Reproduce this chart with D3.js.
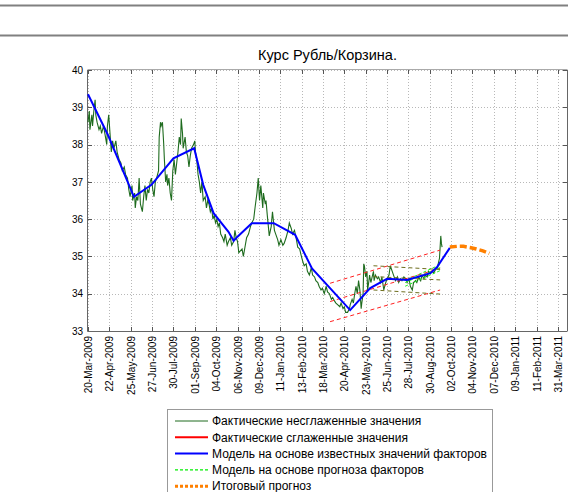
<!DOCTYPE html>
<html><head><meta charset="utf-8">
<script src="https://cdn.jsdelivr.net/npm/d3@7"></script>
<style>
body{margin:0;background:#fff;}
svg{display:block;font-family:"Liberation Sans",Arial,sans-serif;}
</style></head><body>
<svg id="c" width="568" height="492"></svg>
<script>
const startDate = "2009-03-20";
const endDate = "2011-03-30";
const tickDates = ["2009-03-20","2009-04-22","2009-05-25","2009-06-27","2009-07-30","2009-09-01","2009-10-04","2009-11-06","2009-12-09","2010-01-11","2010-02-13","2010-03-18","2010-04-20","2010-05-23","2010-06-25","2010-07-28","2010-08-30","2010-10-02","2010-11-04","2010-12-07","2011-01-09","2011-02-11","2011-03-16"];
const tickLabels = ["20-Mar-2009","22-Apr-2009","25-May-2009","27-Jun-2009","30-Jul-2009","01-Sep-2009","04-Oct-2009","06-Nov-2009","09-Dec-2009","11-Jan-2010","13-Feb-2010","18-Mar-2010","20-Apr-2010","23-May-2010","25-Jun-2010","28-Jul-2010","30-Aug-2010","02-Oct-2010","04-Nov-2010","07-Dec-2010","09-Jan-2011","11-Feb-2011","31-Mar-2011"];
const yTicks = [33,34,35,36,37,38,39,40];

// actual (unsmoothed) values: day offset from startDate, value
const actualDay = [0,2,3,6,7,9,11,12,14,17,19,21,24,26,29,30,32,34,36,38,40,43,45,48,51,53,56,58,61,63,65,68,69,72,73,75,77,79,81,84,86,88,90,92,94,96,98,100,102,104,106,109,110,112,113,115,117,118,120,122,123,125,127,129,131,133,135,137,139,141,143,144,146,147,150,152,154,156,158,160,163,165,166,168,170,172,174,176,178,181,183,185,187,189,191,193,195,197,199,201,203,205,208,210,212,215,217,220,222,225,227,229,231,233,238,240,243,245,248,251,253,256,258,261,263,265,267,270,271,274,275,277,280,283,285,288,290,293,295,298,301,303,306,309,311,314,316,319,322,324,327,329,332,334,337,339,342,345,347,350,352,355,357,360,362,365,368,370,373,376,378,381,383,386,389,391,394,396,398,401,404,405,408,410,412,414,416,418,420,422,423,425,426,427,429,431,432,434,435,437,439,441,442,444,447,449,452,454,457,460,462,465,467,470,472,475,478,480,483,485,488,491,493,496,498,501,503,506,508,511,514,516,519,521,524,526,529,532,534,537,540,541,543,544,545,546,547];
const actualValue = [38.6,38.9,38.4,38.8,38.5,38.9,39.2,38.8,38.6,38.4,38.5,38.3,38.5,38.3,38.0,38.5,38.8,38.3,37.8,38.1,37.9,38.1,37.8,37.6,37.5,37.3,37.4,37.2,37.1,36.8,36.6,36.9,36.5,36.7,36.3,36.6,36.5,37.1,36.4,36.2,36.6,36.9,36.5,36.8,36.7,37.0,37.1,36.8,36.6,37.0,37.1,37.3,38.2,38.6,38.5,38.6,38.0,37.6,37.0,37.2,36.9,37.1,36.7,36.5,37.3,37.6,37.2,37.5,37.8,38.2,38.0,38.7,38.3,37.9,38.2,37.8,37.7,37.4,37.7,37.9,38.0,38.1,37.8,37.6,37.2,37.0,36.7,37.0,36.5,36.6,36.3,36.5,36.4,36.2,36.3,36.0,36.1,35.9,36.0,35.8,35.9,35.6,35.5,35.4,35.6,35.3,35.4,35.5,35.3,35.4,35.7,35.5,35.4,35.1,35.2,35.0,35.3,35.5,35.6,35.8,35.9,36.0,36.3,36.7,37.1,36.5,36.9,36.3,36.7,36.4,36.5,36.1,35.55,35.8,36.2,35.7,35.6,35.45,35.3,35.45,35.3,35.35,35.5,35.7,35.9,35.75,35.6,35.7,35.45,35.25,35.2,35.05,34.85,34.75,34.8,34.6,34.5,34.7,34.5,34.45,34.35,34.3,34.2,34.1,34.15,34.0,34.2,34.05,34.0,33.85,33.9,33.8,33.75,33.7,33.65,33.75,33.6,33.65,33.5,33.5,33.6,33.7,33.85,33.75,34.0,34.2,34.0,34.35,34.1,33.6,33.75,34.0,34.8,34.75,34.45,34.6,34.1,34.35,34.5,34.3,34.45,34.6,34.35,34.5,34.4,34.45,34.3,34.45,34.1,34.3,34.4,34.5,34.75,34.6,34.5,34.35,34.45,34.3,34.4,34.35,34.45,34.4,34.3,34.4,34.2,34.1,34.3,34.35,34.3,34.45,34.35,34.5,34.4,34.5,34.45,34.6,34.55,34.6,34.55,34.65,34.7,34.8,34.95,35.25,35.55,35.35,35.25];

// model based on known factor values
const modelDay = [0,31,71,98,132,164,178,194,217,225,231,253,287,320,346,405,436,462,493,529,539,559];
const modelValue = [39.35,38.25,36.6,36.92,37.63,37.9,36.92,36.16,35.66,35.42,35.53,35.89,35.89,35.58,34.68,33.56,34.15,34.4,34.37,34.55,34.71,35.23];

// final forecast
const forecastDay = [559,570,580,590,600,610,620];
const forecastValue = [35.25,35.27,35.27,35.24,35.2,35.15,35.08];

// trend channel (red dashed)
const channelDay = [374,544];
const channelUpper = [34.28,35.17];
const channelMid = [33.79,34.68];
const channelLower = [33.25,34.10];

// olive dashed band
const oliveDay = [441,544];
const oliveUpper = [34.75,34.65];
const oliveMid = [34.46,34.37];
const oliveLower = [34.10,33.99];

// model on forecast of factors (light green dashed)
const fcDay = [490,544];
const fcUpper = [34.35,34.78];
const fcMid = [34.3,34.7];
const fcLower = [34.2,34.62];

const legendItems = [
  {label:"Фактические несглаженные значения", color:"#1e6b1e", w:1, dash:null},
  {label:"Фактические сглаженные значения", color:"#ff0000", w:2, dash:null},
  {label:"Модель на основе известных значений факторов", color:"#0000ff", w:2, dash:null},
  {label:"Модель на основе прогноза факторов", color:"#00ee00", w:1.3, dash:"3,2"},
  {label:"Итоговый прогноз", color:"#ff8000", w:3, dash:"3,2"}
];

const svg = d3.select("#c");
const parse = d3.utcParse("%Y-%m-%d");
const t0 = parse(startDate);
const dayToDate = d => d3.utcDay.offset(t0, d);
const L = 88, R = 567, T = 70, B = 331;
const x = d3.scaleUtc().domain([t0, parse(endDate)]).range([L, R]);
const y = d3.scaleLinear().domain([33,40]).range([B, T]);

// top decoration
svg.append("line").attr("x1",0).attr("x2",568).attr("y1",5.5).attr("y2",5.5).attr("stroke","#808080").attr("stroke-width",2);
svg.append("line").attr("x1",0).attr("x2",568).attr("y1",35.5).attr("y2",35.5).attr("stroke","#808080").attr("stroke-width",2);

// grid
const g = svg.append("g");
tickDates.forEach(td => {
  const xx = Math.round(x(parse(td))) + 0.5;
  g.append("line").attr("x1",xx).attr("x2",xx).attr("y1",T).attr("y2",B)
   .attr("stroke","#b8b8b8").attr("stroke-dasharray","1,2");
});
yTicks.forEach(v => {
  const yy = Math.round(y(v)) + 0.5;
  g.append("line").attr("x1",L).attr("x2",R).attr("y1",yy).attr("y2",yy)
   .attr("stroke","#b8b8b8").attr("stroke-dasharray","1,2");
});

// axes
const xAxis = d3.axisBottom(x).tickValues(tickDates.map(parse)).tickSize(0).tickFormat((d,i)=>tickLabels[i]);
const xa = svg.append("g").attr("transform",`translate(0,${B})`).call(xAxis);
xa.select(".domain").remove();
xa.selectAll("text").attr("transform","rotate(-90)").attr("text-anchor","end")
  .attr("x",-5).attr("y",0).attr("dy","0.35em").attr("font-size",10).attr("fill","#000")
  .attr("font-family","Liberation Sans, Arial, sans-serif");
const yAxis = d3.axisLeft(y).tickValues(yTicks).tickSize(0).tickFormat(d3.format("d"));
const ya = svg.append("g").attr("transform",`translate(${L},0)`).call(yAxis);
ya.select(".domain").remove();
ya.selectAll("text").attr("x",-5).attr("font-size",10).attr("fill","#000")
  .attr("font-family","Liberation Sans, Arial, sans-serif");

// tick marks (inward)
tickDates.forEach(td => {
  const xx = Math.round(x(parse(td))) + 0.5;
  svg.append("line").attr("x1",xx).attr("x2",xx).attr("y1",B).attr("y2",B-4).attr("stroke","#555");
  svg.append("line").attr("x1",xx).attr("x2",xx).attr("y1",T).attr("y2",T+4).attr("stroke","#555");
});
yTicks.forEach(v => {
  const yy = Math.round(y(v)) + 0.5;
  svg.append("line").attr("x1",L).attr("x2",L+4).attr("y1",yy).attr("y2",yy).attr("stroke","#555");
  svg.append("line").attr("x1",R).attr("x2",R-4).attr("y1",yy).attr("y2",yy).attr("stroke","#555");
});
// box
svg.append("line").attr("x1",L-0.5).attr("x2",R+0.5).attr("y1",T-0.5).attr("y2",T-0.5).attr("stroke","#aaa");
svg.append("line").attr("x1",R+0.5).attr("x2",R+0.5).attr("y1",T).attr("y2",B).attr("stroke","#666");
svg.append("line").attr("x1",L-0.5).attr("x2",L-0.5).attr("y1",T).attr("y2",B+0.5).attr("stroke","#666");
svg.append("line").attr("x1",L-0.5).attr("x2",R+0.5).attr("y1",B+0.5).attr("y2",B+0.5).attr("stroke","#666");

const line = d3.line().x(d=>x(dayToDate(d[0]))).y(d=>y(d[1]));
const zip = (a,b) => a.map((v,i)=>[v,b[i]]);
const plot = svg.append("g");

function seg(days, vals, color, w, dash){
  plot.append("path").attr("d", line(zip(days, vals))).attr("fill","none")
    .attr("stroke",color).attr("stroke-width",w).attr("stroke-dasharray",dash||null);
}
seg(actualDay, actualValue, "#1e6b1e", 1.1);
seg(channelDay, channelUpper, "#ff2020", 1, "4,3");
seg(channelDay, channelMid, "#ff2020", 1, "4,3");
seg(channelDay, channelLower, "#ff2020", 1, "4,3");
seg(oliveDay, oliveUpper, "#6e6e1e", 1, "4,3");
seg(oliveDay, oliveMid, "#6e6e1e", 1, "4,3");
seg(oliveDay, oliveLower, "#6e6e1e", 1, "4,3");
seg(fcDay, fcUpper, "#22ee22", 1, "3,2");
seg(fcDay, fcMid, "#22ee22", 1, "3,2");
seg(fcDay, fcLower, "#22ee22", 1, "3,2");
seg(modelDay, modelValue, "#0000ff", 2);
seg(forecastDay, forecastValue, "#ff8000", 3.5, "7,3");

// title
svg.append("text").attr("x",(L+R)/2).attr("y",60).attr("text-anchor","middle")
  .attr("font-size",14.5).text("Курс Рубль/Корзина.");

// legend
const lg = svg.append("g");
lg.append("rect").attr("x",167.5).attr("y",409.5).attr("width",325).attr("height",100)
  .attr("fill","#fff").attr("stroke","#999");
legendItems.forEach((it,i)=>{
  const yy = 421 + i*16.3;
  lg.append("line").attr("x1",175).attr("x2",208).attr("y1",yy).attr("y2",yy)
    .attr("stroke",it.color).attr("stroke-width",it.w).attr("stroke-dasharray",it.dash);
  lg.append("text").attr("x",212).attr("y",yy).attr("dy","0.35em").attr("font-size",12).text(it.label);
});
</script></body></html>
